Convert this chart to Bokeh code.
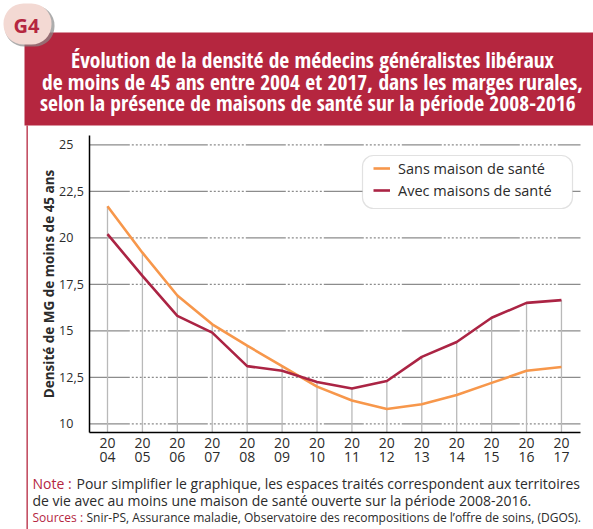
from bokeh.plotting import figure
from bokeh.models import (Label, BoxAnnotation, Legend, LegendItem, FixedTicker, Range1d)
from bokeh.embed import file_html
from bokeh.resources import INLINE

# ---- data ----
years = [2004, 2005, 2006, 2007, 2008, 2009, 2010, 2011, 2012, 2013, 2014, 2015, 2016, 2017]
sans_maison = [21.7, 19.2, 16.9, 15.35, 14.2, 13.1, 12.0, 11.25, 10.8, 11.05, 11.55, 12.2, 12.85, 13.05]
avec_maisons = [20.2, 17.95, 15.8, 14.9, 13.1, 12.85, 12.25, 11.9, 12.3, 13.6, 14.4, 15.7, 16.5, 16.65]
y_ticks = [10, 12.5, 15, 17.5, 20, 22.5, 25]
y_tick_labels = ["10", "12,5", "15", "17,5", "20", "22,5", "25"]
x_tick_labels = ["20\n%02d" % (y % 100) for y in years]

title_lines = [
    "Évolution de la densité de médecins généralistes libéraux",
    "de moins de 45 ans entre 2004 et 2017, dans les marges rurales,",
    "selon la présence de maisons de santé  sur la période 2008-2016",
]
series_names = ["Sans maison de santé", "Avec maisons de santé"]

CRIMSON = "#b5263f"
ORANGE = "#f7974b"
RED = "#ab2444"
TXT = "#2b2b2b"
FONT = "Open Sans"
FONT_C = "Open Sans Condensed"

W, H = 593, 529
# reference-pixel geometry: px per year / per unit
X0PX, XPY = 107.0, 34.92     # 2004 at x 107
Y0PX, YPU = 423.3, 18.6      # 10 at y 423.3

def dx(rx):
    return 2004 + (rx - X0PX) / XPY

def dy(ry):
    return 10 + (Y0PX - ry) / YPU

XA, XB = dx(89.3), dx(580)   # plot area left / right
YA, YB = dy(432), dy(135)    # plot area bottom / top

p = figure(width=W, height=H, output_backend="svg", toolbar_location=None,
           x_range=Range1d(dx(0), dx(W)), y_range=Range1d(dy(H), dy(0)),
           min_border=0)
p.outline_line_color = None
p.background_fill_color = "white"
p.border_fill_color = "white"
p.xgrid.visible = False
p.ygrid.visible = False

def sx(rx):
    return rx

def sy(ry):
    return H - ry

# horizontal dashed grid lines
p.segment(x0=[XA] * len(y_ticks), y0=y_ticks, x1=[XB] * len(y_ticks), y1=y_ticks,
          line_color="#8c8c8c", line_width=1.3,
          line_dash="40 2 2 2 2 2 2 2 2 2 2 2 2 2 2 2 2 2 2 2")

# vertical drop lines up to the highest series value
tops = [max(a, b) for a, b in zip(sans_maison, avec_maisons)]
p.segment(x0=years, y0=[YA] * len(years), x1=years, y1=tops,
          line_color="#b9b9b9", line_width=1.3)

r1 = p.line(years, sans_maison, line_color=ORANGE, line_width=2.6)
r2 = p.line(years, avec_maisons, line_color=RED, line_width=2.6)

# y tick labels are left-aligned in the reference: pad the short ones
def pad(s):
    return s + ("" if "," in s else "\u2007\u2008")

p.yaxis.fixed_location = XA
p.yaxis.bounds = (YA, YB)
p.yaxis.ticker = FixedTicker(ticks=y_ticks)
p.yaxis.major_label_overrides = {t: pad(s) for t, s in zip(y_ticks, y_tick_labels)}
p.yaxis.major_tick_line_color = None
p.yaxis.minor_tick_line_color = None
p.yaxis.axis_line_color = "black"
p.yaxis.axis_line_width = 1.5
p.yaxis.major_label_text_font = FONT
p.yaxis.major_label_text_font_size = "12.5px"
p.yaxis.major_label_text_color = TXT
p.yaxis.major_label_standoff = 0
p.yaxis.axis_label = "Densité de MG de moins de 45 ans"
p.yaxis.axis_label_text_font = FONT
p.yaxis.axis_label_text_font_style = "bold"
p.yaxis.axis_label_text_font_size = "13.5px"
p.yaxis.axis_label_text_color = TXT
p.yaxis.axis_label_standoff = -2

p.xaxis.fixed_location = YA
p.xaxis.bounds = (XA, XB)
p.xaxis.ticker = FixedTicker(ticks=years)
p.xaxis.major_label_overrides = dict(zip(years, x_tick_labels))
p.xaxis.major_tick_line_color = None
p.xaxis.minor_tick_line_color = None
p.xaxis.axis_line_color = "black"
p.xaxis.axis_line_width = 1.5
p.xaxis.major_label_text_font = FONT
p.xaxis.major_label_text_font_size = "14px"
p.xaxis.major_label_text_color = TXT
p.xaxis.major_label_text_line_height = 0.76
p.xaxis.major_label_standoff = -6

props = BoxAnnotation.properties()
def rad(v):
    return {"border_radius": v} if "border_radius" in props else {}

def box(l, r, t, b, **kw):
    bx = BoxAnnotation(left=sx(l), right=sx(r), top=sy(t), bottom=sy(b),
                       left_units="screen", right_units="screen",
                       top_units="screen", bottom_units="screen", **kw)
    p.add_layout(bx)
    return bx

# banner
box(24, 600, 32, 125, fill_color=CRIMSON, fill_alpha=1, line_color=None)
# left frame border
box(26, 27.3, 125, 540, fill_color=CRIMSON, fill_alpha=1, line_color=None)
# badge
box(4, 54, 5, 46, fill_color="#8a8a8a", fill_alpha=0.7, line_color=None, **rad(20))
box(3, 51, 3, 44, fill_color="#f3d9d3", fill_alpha=1, line_color=None, **rad(20))

def label(rx, ry, text, color, size, bold=False, align="left", font=FONT, baseline="middle"):
    p.add_layout(Label(x=sx(rx), y=sy(ry), x_units="screen", y_units="screen", text=text,
                       text_font=font, text_font_style="bold" if bold else "normal",
                       text_font_size=size, text_color=color, text_align=align,
                       text_baseline=baseline))

label(26, 25, "G4", CRIMSON, "20px", bold=True, align="center")

# title
for (cx, cy), line in zip([(312, 59), (312, 80.5), (310, 102)], title_lines):
    label(cx, cy, line, "white", "21.5px", bold=True, align="center", font=FONT_C)

# legend box
box(362, 572, 155, 208, fill_color="white", fill_alpha=1, line_color="#9a9a9a",
    line_width=1.2, **rad(11))
legend = Legend(items=[LegendItem(label=series_names[0], renderers=[r1]),
                       LegendItem(label=series_names[1], renderers=[r2])],
                location=(sx(373), sy(200)), padding=0, margin=0, spacing=2,
                glyph_width=17, glyph_height=20, label_height=20, label_standoff=8,
                background_fill_alpha=0, border_line_color=None,
                label_text_font=FONT, label_text_font_size="14.5px", label_text_color=TXT)
p.add_layout(legend, "center")

# footnotes
label(32, 483, "Note :", CRIMSON, "14px")
label(76, 483, "Pour simplifier le graphique, les espaces traités correspondent aux territoires", TXT, "14px")
label(32, 500, "de vie avec au moins une maison de santé ouverte sur la période 2008-2016.", TXT, "14px")
label(32, 517, "Sources :", CRIMSON, "12px")
label(86, 517, "Snir-PS, Assurance maladie, Observatoire des recompositions de l’offre de soins, (DGOS).", TXT, "12px")

open("out.html", "w").write(file_html(p, INLINE))
